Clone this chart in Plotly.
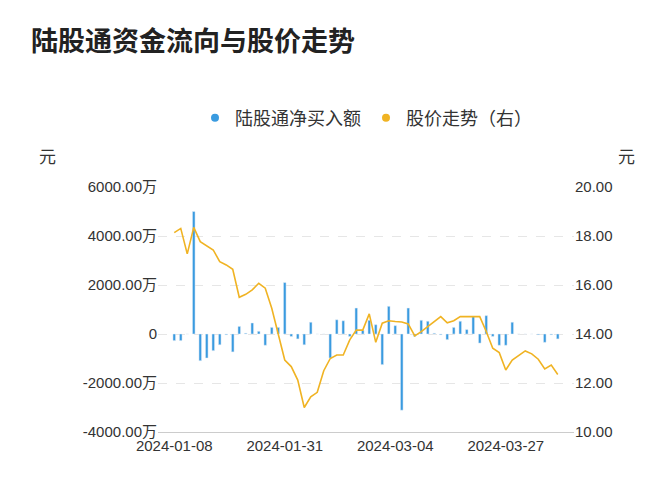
import plotly.graph_objs as go

# net buy (万元) and price (元), one value per trading day
net_buy = [-270, -270, 0, 5000, -1090, -980, -680, -440, -30, -730,
           310, 30, 450, 110, -460, 270, 270, 2100, -100, -200,
           -440, 480, 0, 0, -980, 580, 540, -100, 1060, 150,
           560, 380, -1250, 1130, 340, -3110, 1060, -100, 560, 520,
           30, -30, -230, 270, 520, 180, 720, -370, 750, -100,
           -460, -460, 480, 0, 0, 0, -30, -340, -30, -200]
price = [18.14, 18.31, 17.27, 18.35, 17.77, 17.61, 17.43, 16.95, 16.82, 16.64,
         15.5, 15.62, 15.8, 16.07, 15.87, 15.05, 14.03, 12.94, 12.67, 12.12,
         11.0, 11.44, 11.62, 12.5, 13.0, 13.14, 13.14, 13.76, 14.16, 14.16,
         14.82, 13.66, 14.44, 14.54, 14.51, 14.49, 14.41, 13.92, 14.1, 14.3,
         14.5, 14.71, 14.46, 14.54, 14.71, 14.71, 14.74, 14.71, 14.1, 13.42,
         13.24, 12.53, 12.94, 13.12, 13.31, 13.19, 12.97, 12.57, 12.73, 12.35]
tick_pos = [0, 17, 34, 51]
tick_text = ["2024-01-08", "2024-01-31", "2024-03-04", "2024-03-27"]
left_ticks = [-4000, -2000, 0, 2000, 4000, 6000]
left_text = ["-4000.00万", "-2000.00万", "0", "2000.00万", "4000.00万", "6000.00万"]
right_ticks = [10, 12, 14, 16, 18, 20]

x = list(range(len(net_buy)))
font = "Liberation Sans, Noto Sans CJK SC"
blue = "#3a9be0"
gold = "#f0b323"

fig = go.Figure()
fig.add_trace(go.Bar(x=x, y=net_buy, marker_color=blue, width=0.4,
                     yaxis="y", showlegend=False))
fig.add_trace(go.Scatter(x=x, y=price, mode="lines", line=dict(color=gold, width=1.6),
                         yaxis="y2", showlegend=False))
# legend entries with round markers
fig.add_trace(go.Scatter(x=[None], y=[None], mode="markers", name="陆股通净买入额",
                         marker=dict(color=blue, size=8, symbol="circle")))
fig.add_trace(go.Scatter(x=[None], y=[None], mode="markers", name="股价走势（右）",
                         marker=dict(color=gold, size=8, symbol="circle")))

tf = dict(size=15, color="#333")
fig.update_layout(
    width=672, height=500,
    margin=dict(l=150, r=106, t=179, b=76),
    paper_bgcolor="white", plot_bgcolor="white",
    font=dict(family=font, color="#333", size=14),
    legend=dict(orientation="h", x=0.5, xanchor="center", y=0.78, yanchor="middle",
                yref="container", font=dict(size=18, color="#333"), itemwidth=30),
    xaxis=dict(range=[-2.5, 61.5], tickvals=tick_pos, ticktext=tick_text,
               showgrid=False, showline=True, linecolor="#ccc", ticks="", tickfont=tf),
    yaxis=dict(range=[-4000, 6000], tickvals=left_ticks, ticktext=left_text,
               showgrid=True, gridcolor="#e6e6e6", griddash="dash", zeroline=False,
               tickfont=tf),
    yaxis2=dict(range=[10, 20], tickvals=right_ticks, tickformat=".2f",
                overlaying="y", side="right", showgrid=False, zeroline=False,
                tickfont=tf),
)
fig.add_annotation(text="<b>陆股通资金流向与股价走势</b>", xref="paper", yref="paper",
                   x=-0.31, xanchor="left", y=1.6, yanchor="middle", showarrow=False,
                   font=dict(size=27, color="#222", family="Noto Sans CJK SC"))
fig.add_annotation(text="元", xref="paper", yref="paper", x=-0.29, xanchor="left",
                   y=1.13, yanchor="middle", showarrow=False,
                   font=dict(size=17, color="#333", family="Noto Sans CJK SC"))
fig.add_annotation(text="元", xref="paper", yref="paper", x=1.1, xanchor="left",
                   y=1.13, yanchor="middle", showarrow=False,
                   font=dict(size=17, color="#333", family="Noto Sans CJK SC"))

fig.write_html("out.html")
